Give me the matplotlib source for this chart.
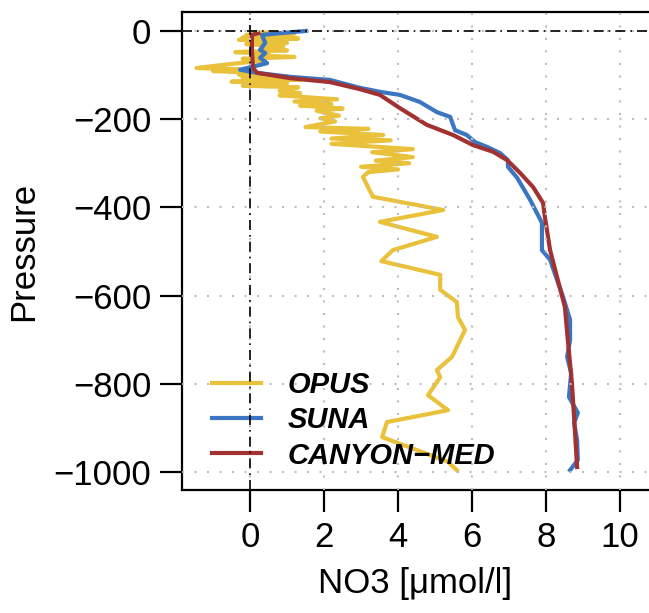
import matplotlib
matplotlib.use("Agg")
import matplotlib.pyplot as plt

plt.rcParams["font.family"] = ["Liberation Sans", "DejaVu Sans"]

# OPUS profile (NO3, pressure)
opus_no3 = [0.1, 1.2, -0.1, 0.6, -0.2, 1.3, -0.3, 0.5, 1.0, -0.1, 0.9, 0.3, 1.0, -0.4,
            0.5, 0.1, 1.2, -0.2, 0.4, -0.2, -1.45, -0.3, -1.0, 0.2, -0.3, 1.0, -0.2, 1.4,
            -0.5, 1.0, -0.2, 1.3, 0.8, 1.35, 0.8, 2.35, 1.2, 2.2, 1.35, 2.5, 1.8, 2.4,
            1.9, 2.3, 1.5, 3.2, 1.9, 3.6, 2.2, 3.8, 2.2, 4.4, 3.3, 4.4, 3.4, 4.3, 3.0,
            4.0, 3.2, 3.05, 3.32, 5.22, 3.51, 5.05, 3.86, 3.55, 5.14, 5.14, 5.59, 5.62,
            5.81, 5.68, 5.46, 5.05, 5.14, 4.81, 5.35, 3.70, 3.57, 5.35, 5.59]
opus_pres = [-3, -6, -9, -12, -15, -17, -20, -24, -27, -30, -35, -41, -44, -48,
             -52, -55, -59, -63, -67, -72, -84, -87, -91, -95, -99, -103, -106, -110,
             -115, -118, -124, -128, -136, -141, -146, -155, -160, -166, -169, -176, -181, -192,
             -198, -205, -218, -222, -228, -236, -244, -248, -256, -268, -275, -286, -294, -300, -308,
             -314, -320, -331, -376, -406, -433, -467, -497, -522, -553, -587, -615, -649,
             -678, -701, -739, -769, -785, -826, -860, -887, -921, -977, -996]

# SUNA profile
suna_no3 = [1.51, 0.81, 0.32, 0.41, 0.27, 0.41, 0.27, 0.46, -0.27, 0.19, 1.08, 2.16,
            2.97, 3.51, 4.05, 4.59, 5.05, 5.41, 5.54, 5.86, 6.08, 6.41, 6.76, 6.97,
            6.97, 7.22, 7.57, 7.89, 7.89, 8.11, 8.30, 8.46, 8.65, 8.65, 8.57, 8.68,
            8.62, 8.86, 8.76, 8.84, 8.86, 8.65]
suna_pres = [0, -5, -9, -27, -43, -50, -61, -73, -88, -95, -104, -111,
             -129, -138, -145, -161, -184, -195, -225, -236, -252, -263, -277, -293,
             -308, -333, -383, -435, -497, -519, -565, -603, -655, -701, -739, -776,
             -830, -866, -889, -928, -973, -996]

# CANYON-MED profile
canyon_no3 = [0.22, 0.05, 0.05, 0.08, 0.19, 1.08, 2.16, 2.97, 3.51, 4.05, 4.78, 5.49,
              6.03, 6.57, 6.95, 7.30, 7.65, 7.92, 7.97, 8.11, 8.32, 8.51, 8.59, 8.70,
              8.78, 8.84]
canyon_pres = [-5, -9, -43, -84, -95, -107, -116, -132, -145, -175, -213, -236,
               -259, -274, -293, -322, -354, -390, -422, -497, -565, -626, -701, -798,
               -905, -989]

x_ticks = [0, 2, 4, 6, 8, 10]
y_ticks = [0, -200, -400, -600, -800, -1000]

fig = plt.figure(figsize=(6.49, 6.13), dpi=100)
ax = fig.add_axes([182 / 649, 1 - 490 / 613, 1 - 182 / 649, (490 - 12) / 613])

ax.plot(opus_no3, opus_pres, color="#E9C13B", lw=3, label="OPUS", zorder=2)
ax.plot(suna_no3, suna_pres, color="#3B76C3", lw=3, label="SUNA", zorder=3)
ax.plot(canyon_no3, canyon_pres, color="#A23232", lw=3, label="CANYON\u2212MED", zorder=4)

# dotted grid drawn over the profiles, like R's grid()
for xv in x_ticks:
    ax.axvline(xv, color="#BDBDBD", lw=1.5, ls=(0, (1, 5)), zorder=5)
for yv in y_ticks:
    ax.axhline(yv, color="#BDBDBD", lw=1.5, ls=(0, (1, 5)), zorder=5)
ax.axvline(0, color="black", lw=1.2, ls=(0, (6, 3, 1, 3)), zorder=6)
ax.axhline(0, color="black", lw=1.2, ls=(0, (6, 3, 1, 3)), zorder=6)

ax.set_xlim(-1.84, (649 - 250) / 37)
ax.set_ylim(-1041, 43)
ax.set_xticks(x_ticks)
ax.set_yticks(y_ticks)
ax.tick_params(axis="both", length=16, width=1.6, labelsize=25, direction="out")
ax.tick_params(axis="y", pad=6)
ax.tick_params(axis="x", pad=6)
for s in ["left", "bottom", "top"]:
    ax.spines[s].set_linewidth(1.6)
ax.spines["right"].set_visible(False)

ax.set_xlabel("NO3 [\u03bcmol/l]", fontsize=25, labelpad=10)
ax.set_ylabel("Pressure", fontsize=25, labelpad=10)

leg = ax.legend(loc="lower left", frameon=False,
                prop={"size": 21, "weight": "bold", "style": "italic"},
                handlelength=1.7, handletextpad=0.9, labelspacing=0.25,
                borderaxespad=0.3, bbox_to_anchor=(0.02, 0.0))

fig.savefig("out.png", dpi=100)
